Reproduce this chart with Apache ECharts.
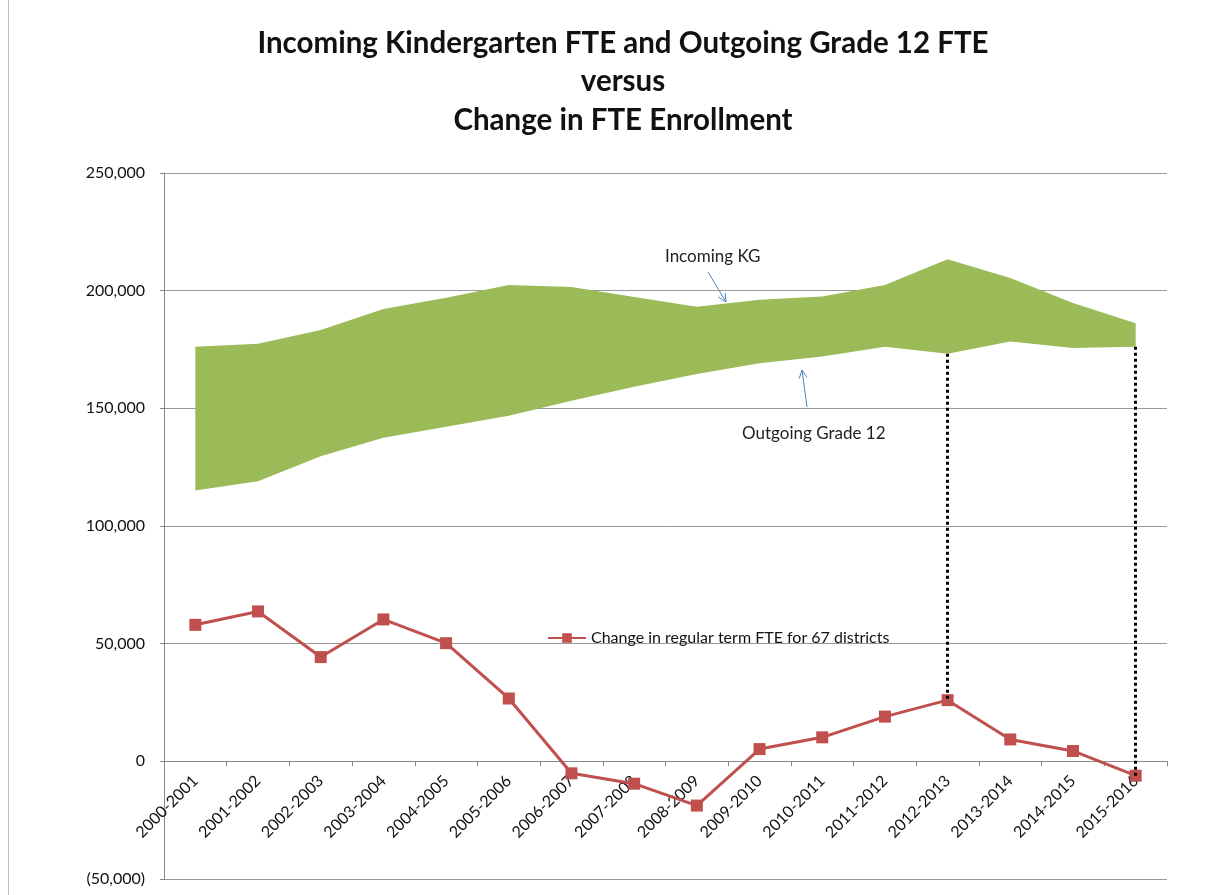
<!DOCTYPE html>
<html>
<head>
<meta charset="utf-8">
<script src="https://cdn.jsdelivr.net/npm/echarts@6/dist/echarts.min.js"></script>
<style>
html,body{margin:0;padding:0;background:#fff;}
#chart{width:1224px;height:895px;}
</style>
</head>
<body>
<div id="chart"></div>
<script>
var categories = ['2000-2001','2001-2002','2002-2003','2003-2004','2004-2005','2005-2006','2006-2007','2007-2008','2008-2009','2009-2010','2010-2011','2011-2012','2012-2013','2013-2014','2014-2015','2015-2016'];
var incomingKG = [176200,177400,183300,192200,197000,202400,201600,197300,193200,196100,197500,202400,213300,205400,194800,186200];
var outgoingG12 = [115100,119000,129600,137500,142200,146800,153200,159200,164600,169200,172000,176200,173200,178400,175600,176200];
var fteChange = [58000,63700,44300,60300,50200,26700,-5100,-9500,-18800,5200,10200,19000,26000,9300,4400,-6100];
var yTicks = {min:-50000, max:250000, interval:50000};
var dropCategories = ['2012-2013','2015-2016'];

var bandWidth = incomingKG.map(function(v,i){ return v - outgoingG12[i]; });
var dropLines = dropCategories.map(function(c){
  var i = categories.indexOf(c);
  return [{coord:[c, outgoingG12[i]]},{coord:[c, fteChange[i]]}];
});

var W = 1224, H = 895;
var gridTop = 173, gridBottom = 16;
var plotH = H - gridTop - gridBottom;
var zeroOffset = -plotH * (0 - yTicks.min) / (yTicks.max - yTicks.min);

var chart = echarts.init(document.getElementById('chart'));
var font = 'Lato';
function arrow(x1,y1,x2,y2){
  var ang = Math.atan2(y2-y1, x2-x1), L = 9, a = 0.45;
  var s = {stroke:'#4F81BD', lineWidth:1};
  return [
    {type:'line', shape:{x1:x1,y1:y1,x2:x2,y2:y2}, style:s},
    {type:'line', shape:{x1:x2,y1:y2,x2:x2-L*Math.cos(ang-a),y2:y2-L*Math.sin(ang-a)}, style:s},
    {type:'line', shape:{x1:x2,y1:y2,x2:x2-L*Math.cos(ang+a),y2:y2-L*Math.sin(ang+a)}, style:s}
  ];
}
var graphics = [
  {type:'line', shape:{x1:8.5,y1:0,x2:8.5,y2:895}, style:{stroke:'#bbb', lineWidth:1}},
  {type:'text', left:665, top:248, style:{text:'Incoming KG', font:'17px Lato', fill:'#222'}},
  {type:'text', left:742, top:425, style:{text:'Outgoing Grade 12', font:'17px Lato', fill:'#222'}}
].concat(arrow(708,272,726,302), arrow(807,407,802,370));

chart.setOption({
  animation:false,
  title:{
    text:'Incoming Kindergarten FTE and Outgoing Grade 12 FTE\nversus\nChange in FTE Enrollment',
    left:623, top:24, textAlign:'center', padding:0,
    textStyle:{fontFamily:font, fontWeight:'bold', fontSize:29.5, lineHeight:38.5, color:'#111'}
  },
  legend:{
    data:['Change in regular term FTE for 67 districts'],
    left:542, top:625, itemWidth:38, itemHeight:12, itemGap:4,
    textStyle:{fontFamily:font, fontSize:16, color:'#111'}
  },
  graphic:graphics,
  grid:{left:164, right:57, top:gridTop, bottom:gridBottom, containLabel:false, outerBoundsMode:'none'},
  xAxis:{
    type:'category', data:categories, boundaryGap:true, position:'bottom', offset:zeroOffset,
    axisLine:{onZero:false, lineStyle:{color:'#888', width:1}},
    axisTick:{show:true, interval:0, length:5, lineStyle:{color:'#888'}},
    axisLabel:{interval:0, rotate:45, margin:17, fontFamily:font, fontSize:16, color:'#111'}
  },
  yAxis:{
    type:'value', min:yTicks.min, max:yTicks.max, interval:yTicks.interval,
    axisLine:{show:true, lineStyle:{color:'#888'}},
    axisTick:{show:true, length:4, lineStyle:{color:'#888'}},
    splitLine:{show:true, lineStyle:{color:'#999', width:1}},
    axisLabel:{margin:19, fontFamily:font, fontSize:16, color:'#111',
      formatter:function(v){ var s = Math.abs(v).toLocaleString('en-US'); return v<0 ? '('+s+')' : s; }}
  },
  series:[
    {name:'Outgoing Grade 12', type:'line', stack:'band', data:outgoingG12, symbol:'none',
     lineStyle:{width:0, opacity:0}, areaStyle:{opacity:0}, silent:true, z:2},
    {name:'Incoming KG', type:'line', stack:'band', data:bandWidth, symbol:'none',
     lineStyle:{width:0, opacity:0}, areaStyle:{color:'#9BBB59', opacity:1}, silent:true, z:2},
    {name:'Change in regular term FTE for 67 districts', type:'line', data:fteChange,
     symbol:'rect', symbolSize:12, color:'#C0504D',
     lineStyle:{color:'#C0504D', width:3}, itemStyle:{color:'#C0504D'}, z:4,
     markLine:{silent:true, symbol:'none', label:{show:false},
       lineStyle:{color:'#000', width:3, type:'dotted'}, data:dropLines}}
  ]
});
</script>
</body>
</html>
